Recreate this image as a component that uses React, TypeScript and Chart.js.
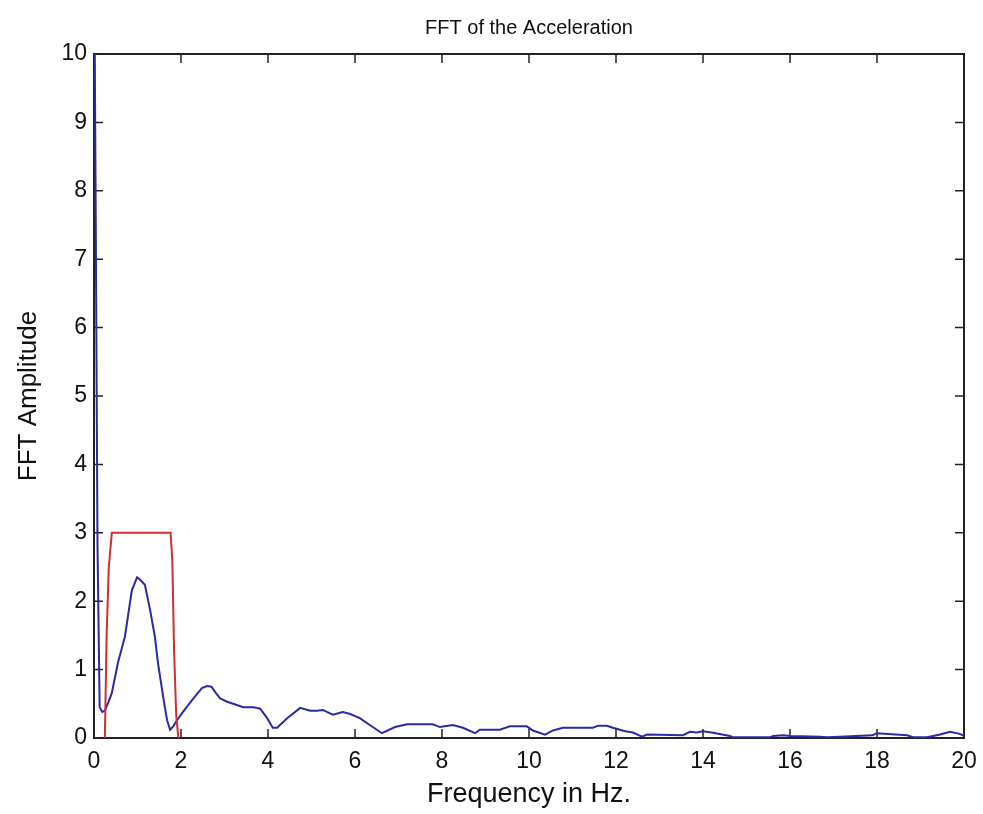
import React, { useEffect, useRef } from 'react';
import { Chart, registerables } from 'chart.js';

Chart.register(...registerables);

const chartTitle = 'FFT of the Acceleration';
const xAxisLabel = 'Frequency in Hz.';
const yAxisLabel = 'FFT Amplitude';

const blueFreq = [0, 0.04, 0.08, 0.13, 0.19, 0.25, 0.33, 0.41, 0.55, 0.71, 0.87, 0.99, 1.05, 1.17, 1.29, 1.4, 1.47, 1.59, 1.68, 1.75, 1.82, 1.91, 2.02, 2.25, 2.48, 2.6, 2.7, 2.8, 2.9, 3.06, 3.25, 3.43, 3.66, 3.82, 3.98, 4.11, 4.21, 4.44, 4.74, 4.97, 5.13, 5.26, 5.49, 5.72, 5.89, 6.11, 6.34, 6.62, 6.92, 7.2, 7.79, 7.95, 8.25, 8.48, 8.76, 8.87, 9.33, 9.56, 9.95, 10.09, 10.37, 10.55, 10.78, 11.47, 11.59, 11.79, 11.93, 12.21, 12.39, 12.6, 12.71, 13.54, 13.7, 13.85, 14.0, 14.2, 14.62, 14.69, 15.54, 15.61, 15.84, 16.0, 16.69, 16.85, 17.15, 17.9, 17.99, 18.69, 18.83, 19.15, 19.45, 19.68, 19.9, 20];
const blueAmp = [12, 7.6, 2.85, 0.45, 0.38, 0.4, 0.52, 0.66, 1.1, 1.48, 2.16, 2.35, 2.32, 2.24, 1.87, 1.48, 1.1, 0.6, 0.26, 0.12, 0.17, 0.26, 0.36, 0.55, 0.73, 0.76, 0.75, 0.66, 0.58, 0.53, 0.49, 0.45, 0.45, 0.43, 0.29, 0.15, 0.15, 0.29, 0.44, 0.4, 0.4, 0.41, 0.34, 0.38, 0.35, 0.29, 0.19, 0.07, 0.16, 0.2, 0.2, 0.16, 0.19, 0.15, 0.07, 0.12, 0.12, 0.17, 0.17, 0.11, 0.05, 0.11, 0.15, 0.15, 0.18, 0.18, 0.15, 0.1, 0.08, 0.02, 0.05, 0.04, 0.09, 0.08, 0.1, 0.08, 0.03, 0.01, 0.01, 0.03, 0.04, 0.03, 0.02, 0.01, 0.02, 0.04, 0.07, 0.04, 0.01, 0.01, 0.05, 0.09, 0.06, 0.03];

const redFreq = [0.25, 0.29, 0.34, 0.41, 1.76, 1.8, 1.84, 1.89, 1.94];
const redAmp = [0, 1.5, 2.5, 3, 3, 2.6, 1.3, 0.33, 0];

const xMin = 0;
const xMax = 20;
const xStep = 2;
const yMin = 0;
const yMax = 10;
const yStep = 1;

const FONT = '"Liberation Sans", Arial, Helvetica, sans-serif';
const W = 983;
const H = 814;

const boxPlugin = {
  id: 'matlabBox',
  beforeDatasetsDraw(chart: any) {
    const { ctx, chartArea: a, scales } = chart;
    const len = 9;
    ctx.save();
    ctx.strokeStyle = '#222222';
    ctx.lineWidth = 2;
    ctx.strokeRect(a.left, a.top, a.right - a.left, a.bottom - a.top);
    ctx.lineWidth = 1.5;
    ctx.beginPath();
    scales.x.ticks.forEach((t: any) => {
      const px = scales.x.getPixelForValue(t.value);
      ctx.moveTo(px, a.bottom);
      ctx.lineTo(px, a.bottom - len);
      ctx.moveTo(px, a.top);
      ctx.lineTo(px, a.top + len);
    });
    scales.y.ticks.forEach((t: any) => {
      const py = scales.y.getPixelForValue(t.value);
      ctx.moveTo(a.left, py);
      ctx.lineTo(a.left + len, py);
      ctx.moveTo(a.right, py);
      ctx.lineTo(a.right - len, py);
    });
    ctx.stroke();
    ctx.restore();
  },
};

export default function App() {
  const ref = useRef<HTMLCanvasElement | null>(null);

  useEffect(() => {
    if (!ref.current) return;
    const blue = blueFreq.map((f, i) => ({ x: f, y: blueAmp[i] }));
    const red = redFreq.map((f, i) => ({ x: f, y: redAmp[i] }));
    const chart = new Chart(ref.current, {
      type: 'line',
      data: {
        datasets: [
          {
            label: 'Filter',
            data: red,
            borderColor: '#cc3030',
            borderWidth: 2,
            pointRadius: 0,
            tension: 0,
            fill: false,
          },
          {
            label: 'FFT',
            data: blue,
            borderColor: '#2a2aa6',
            borderWidth: 2,
            pointRadius: 0,
            tension: 0,
            fill: false,
          },
        ],
      },
      options: {
        animation: false,
        responsive: false,
        devicePixelRatio: 1,
        parsing: false,
        layout: { padding: { left: 0, right: 19, top: 0, bottom: 0 } },
        plugins: {
          legend: { display: false },
          tooltip: { enabled: false },
          title: {
            display: true,
            fullSize: false,
            text: chartTitle,
            color: '#111111',
            font: { family: FONT, size: 20, weight: 'normal' },
            padding: { top: 16, bottom: 14 },
          },
        },
        scales: {
          x: {
            type: 'linear',
            min: xMin,
            max: xMax,
            ticks: {
              stepSize: xStep,
              color: '#111111',
              font: { family: FONT, size: 23 },
              padding: 10,
              maxRotation: 0,
            },
            grid: { display: false, drawTicks: false },
            border: { display: false },
            title: {
              display: true,
              text: xAxisLabel,
              color: '#111111',
              font: { family: FONT, size: 27 },
              padding: { top: 0, bottom: 3 },
            },
            afterFit: (s: any) => {
              s.height = 76;
              s.paddingRight = 0;
              s.paddingLeft = 0;
            },
          },
          y: {
            type: 'linear',
            min: yMin,
            max: yMax,
            ticks: {
              stepSize: yStep,
              color: '#111111',
              font: { family: FONT, size: 23 },
              padding: 7,
            },
            grid: { display: false, drawTicks: false },
            border: { display: false },
            title: {
              display: true,
              text: yAxisLabel,
              color: '#111111',
              font: { family: FONT, size: 26 },
              padding: { top: 13, bottom: 0 },
            },
            afterFit: (s: any) => {
              s.width = 94;
            },
          },
        },
      } as any,
      plugins: [boxPlugin],
    });
    return () => chart.destroy();
  }, []);

  return (
    <div style={{ position: 'absolute', left: 0, top: 0, width: W, height: H, background: '#ffffff' }}>
      <canvas ref={ref} width={W} height={H} style={{ display: 'block', width: W, height: H }} />
    </div>
  );
}
